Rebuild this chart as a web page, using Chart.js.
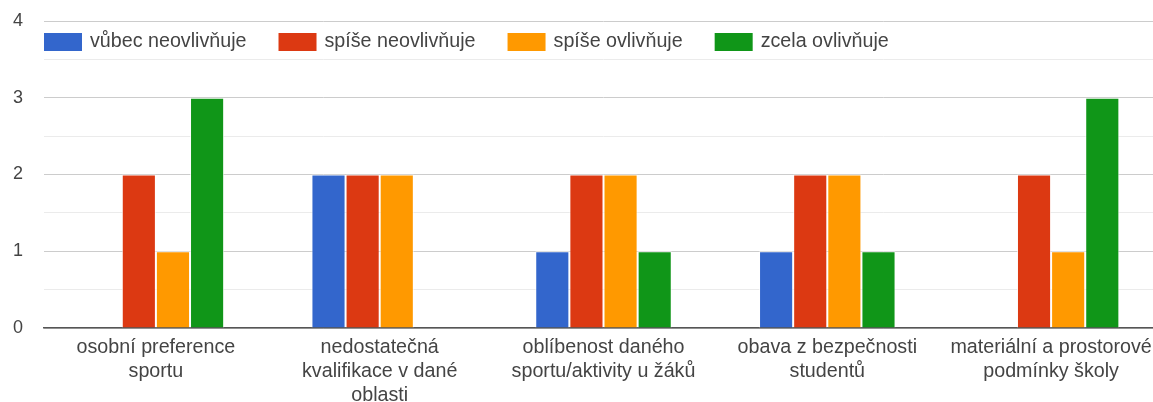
<!DOCTYPE html>
<html>
<head>
<meta charset="utf-8">
<script src="https://cdn.jsdelivr.net/npm/chart.js@4"></script>
<style>
  html, body { margin: 0; padding: 0; background: #fff; overflow: hidden; }
  #wrap { width: 1163px; height: 411px; margin-top: -9px; position: relative; }
</style>
</head>
<body>
<div id="wrap"><canvas id="myChart"></canvas></div>
<script>
// categories
var categories = [
    ['osobní preference', 'sportu'],
    ['nedostatečná', 'kvalifikace v dané', 'oblasti'],
    ['oblíbenost daného', 'sportu/aktivity u žáků'],
    ['obava z bezpečnosti', 'studentů'],
    ['materiální a prostorové', 'podmínky školy']
];

// series
var seriesNames = ['vůbec neovlivňuje', 'spíše neovlivňuje', 'spíše ovlivňuje', 'zcela ovlivňuje'];
var vubecNeovlivnuje = [0, 2, 1, 1, 0];
var spiseNeovlivnuje = [2, 2, 2, 2, 2];
var spiseOvlivnuje = [1, 2, 2, 2, 1];
var zcelaOvlivnuje = [3, 0, 1, 1, 3];
var colors = ['#3366cc', '#dc3912', '#ff9900', '#109618'];

var yTicks = [0, 1, 2, 3, 4];

var FONT = '"Liberation Sans", Arial, sans-serif';
var FONT_SIZE = 19.7;

// legend drawn inside the plot area, top left
var topLegend = {
    id: 'topLegend',
    afterDraw: function(chart) {
        var ctx = chart.ctx;
        var x = chart.chartArea.left;
        var y = chart.chartArea.top + 12;
        ctx.save();
        ctx.font = FONT_SIZE + 'px ' + FONT;
        ctx.textBaseline = 'middle';
        ctx.textAlign = 'left';
        chart.data.datasets.forEach(function(ds) {
            ctx.fillStyle = ds.backgroundColor;
            ctx.fillRect(x, y, 38, 18);
            ctx.fillStyle = '#444';
            ctx.fillText(ds.label, x + 46, y + 9);
            x += 46 + ctx.measureText(ds.label).width + 32;
        });
        ctx.restore();
    }
};

var values = [vubecNeovlivnuje, spiseNeovlivnuje, spiseOvlivnuje, zcelaOvlivnuje];
var datasets = seriesNames.map(function(name, i) {
    return {
        label: name,
        data: values[i],
        backgroundColor: colors[i],
        borderColor: 'rgba(255,255,255,0.7)',
        borderWidth: 1,
        borderSkipped: 'bottom',
        barPercentage: 1,
        categoryPercentage: 0.61
    };
});

var ctx = document.getElementById('myChart').getContext('2d');
var myChart = new Chart(ctx, {
    type: 'bar',
    data: {
        labels: categories,
        datasets: datasets
    },
    options: {
        responsive: true,
        maintainAspectRatio: false,
        animation: false,
        layout: { padding: 0 },
        plugins: {
            legend: { display: false },
            tooltip: { enabled: false }
        },
        scales: {
            x: {
                grid: { display: false, drawTicks: false },
                border: { color: '#555', width: 1.5 },
                ticks: {
                    color: '#444',
                    font: { family: FONT, size: FONT_SIZE, lineHeight: 1.2 },
                    padding: 8,
                    maxRotation: 0,
                    autoSkip: false
                },
                afterFit: function(axis) { axis.height = 74; }
            },
            y: {
                min: yTicks[0],
                max: yTicks[yTicks.length - 1],
                ticks: {
                    stepSize: 0.5,
                    color: '#444',
                    font: { family: FONT, size: 18, lineHeight: 1 },
                    padding: 21,
                    callback: function(v) { return Number.isInteger(v) ? v : ''; }
                },
                grid: {
                    drawTicks: false,
                    color: function(c) {
                        return Number.isInteger(c.tick.value) ? '#cccccc' : '#ebebeb';
                    }
                },
                border: { display: false },
                afterFit: function(axis) { axis.width = 44; }
            }
        }
    },
    plugins: [topLegend]
});
</script>
</body>
</html>
